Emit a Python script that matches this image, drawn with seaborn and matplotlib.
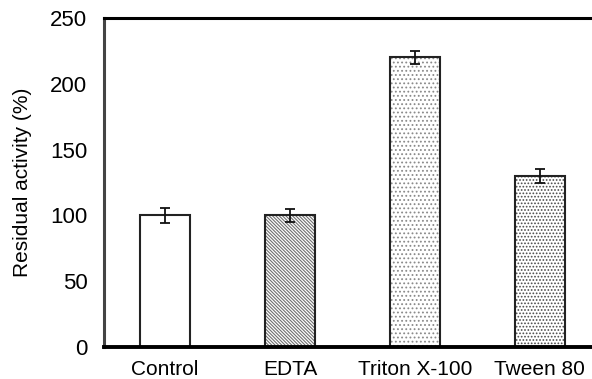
import matplotlib
matplotlib.use("Agg")
import matplotlib.pyplot as plt
import seaborn as sns
import pandas as pd

categories = ["Control", "EDTA", "Triton X-100", "Tween 80"]
activity = [100, 100, 220, 130]
errors = [5.5, 5, 5, 5.5]
hatches = ["", "\\" * 10, "....", "....."]
hatch_colors = ["#808080", "#707070", "#8a8a8a", "#4a4a4a"]

sns.set_style("white", {"text.color": "black", "axes.labelcolor": "black",
                        "xtick.color": "black", "ytick.color": "black"})
plt.rcParams['font.family'] = ['Liberation Sans', 'DejaVu Sans']
plt.rcParams['hatch.linewidth'] = 0.8

df = pd.DataFrame({"treatment": categories, "activity": activity})

fig = plt.figure(figsize=(5.92, 3.79), dpi=100)
ax = fig.add_axes([0.1757, 0.0844, 0.8243, 0.8681])

# hatched fill layer (hatch takes the edge colour)
sns.barplot(data=df, x="treatment", y="activity", color="white",
            width=0.4, linewidth=0, ax=ax)
for bar, h, c in zip(ax.patches, hatches, hatch_colors):
    bar.set_hatch(h)
    bar.set_edgecolor(c)
# dark outline layer
sns.barplot(data=df, x="treatment", y="activity", fill=False,
            width=0.4, edgecolor="#222222", linewidth=1.5, ax=ax)

ax.errorbar(range(len(categories)), activity, yerr=errors, fmt="none",
            ecolor="#111111", elinewidth=1.3, capsize=3.5, capthick=1.3)

ax.set_ylim(0, 250)
ax.set_xlim(-0.49, 3.42)
ax.set_yticks([0, 50, 100, 150, 200, 250])
ax.set_xlabel("")
ax.set_ylabel("Residual activity (%)", fontsize=15, labelpad=13)
ax.tick_params(axis="y", direction="in", length=4, width=0.8, color="#888888",
               labelcolor="black", labelsize=16, pad=12)
ax.tick_params(axis="x", length=0, labelcolor="black", labelsize=15, pad=9)

ax.spines["right"].set_visible(False)
ax.spines["top"].set_linewidth(2.2)
ax.spines["top"].set_color("black")
ax.spines["bottom"].set_linewidth(2.8)
ax.spines["bottom"].set_color("black")
ax.spines["left"].set_linewidth(2.2)
ax.spines["left"].set_color("#444444")

fig.savefig("out.png", dpi=100)
